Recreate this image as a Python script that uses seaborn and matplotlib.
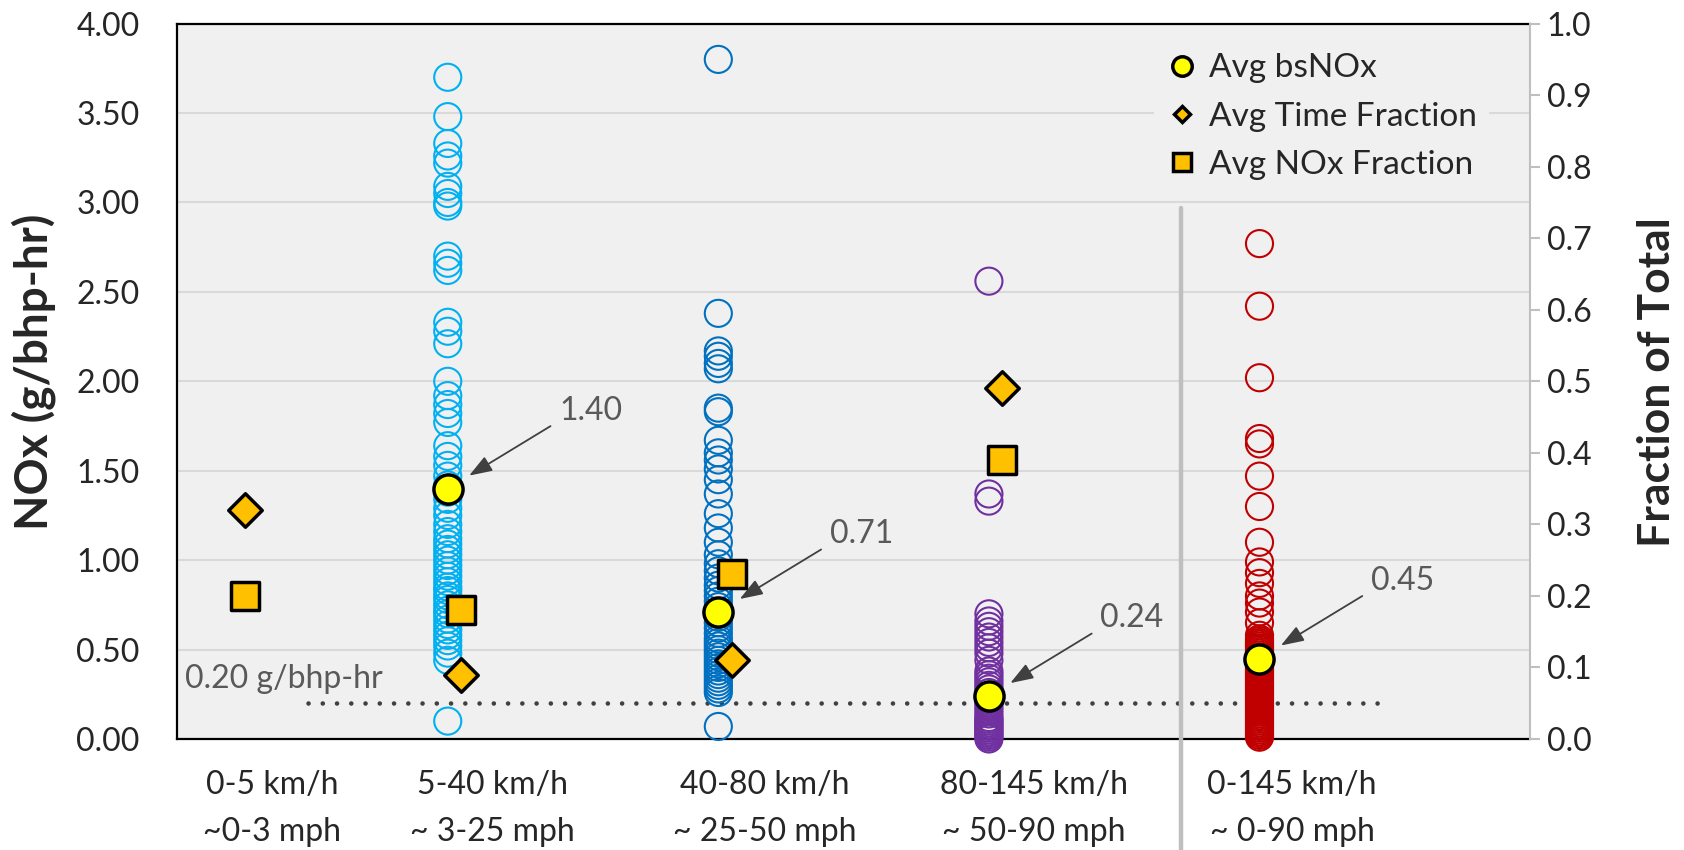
import matplotlib
matplotlib.use("Agg")
import matplotlib.pyplot as plt
from matplotlib.lines import Line2D
from matplotlib.ticker import StrMethodFormatter
import numpy as np
import pandas as pd
import seaborn as sns

# Speed bins (two-line x labels)
bin_kmh = ["0-5 km/h", "5-40 km/h", "40-80 km/h", "80-145 km/h", "0-145 km/h"]
bin_mph = ["~0-3 mph", "~ 3-25 mph", "~ 25-50 mph", "~ 50-90 mph", "~ 0-90 mph"]

# Per-trip bsNOx (g/bhp-hr), one list per speed bin
nox_5_40 = [3.70, 3.48, 3.33, 3.26, 3.22, 3.09, 3.05, 3.00, 2.98, 2.70, 2.66, 2.62,
            2.33, 2.28, 2.21, 2.00, 1.92, 1.87, 1.82, 1.77, 1.64, 1.58, 1.53, 1.47,
            1.42, 1.38, 1.34, 1.29, 1.25, 1.20, 1.16, 1.12, 1.09, 1.06, 1.03, 1.00,
            0.97, 0.94, 0.91, 0.88, 0.85, 0.83, 0.80, 0.78, 0.75, 0.72, 0.70, 0.67,
            0.64, 0.61, 0.58, 0.55, 0.52, 0.48, 0.44, 0.10]
nox_40_80 = [3.80, 2.38, 2.17, 2.14, 2.10, 2.07, 1.85, 1.83, 1.67, 1.60, 1.56, 1.51,
             1.45, 1.37, 1.26, 1.18, 1.10, 1.03, 0.98, 0.94, 0.90, 0.86, 0.83, 0.80,
             0.77, 0.74, 0.71, 0.68, 0.65, 0.62, 0.59, 0.56, 0.54, 0.52, 0.50, 0.48,
             0.46, 0.44, 0.42, 0.40, 0.38, 0.36, 0.34, 0.32, 0.30, 0.28, 0.26, 0.07]
nox_80_145 = [2.56, 1.37, 1.33, 0.70, 0.66, 0.63, 0.60, 0.57, 0.54, 0.51, 0.48, 0.44,
              0.38, 0.36, 0.34, 0.32, 0.30, 0.28, 0.26, 0.24, 0.22, 0.20, 0.18, 0.16,
              0.14, 0.12, 0.11, 0.10, 0.09, 0.08, 0.07, 0.06, 0.05, 0.04, 0.03, 0.02,
              0.01, 0.00]
nox_0_145 = [2.77, 2.42, 2.02, 1.68, 1.65, 1.47, 1.30, 1.10, 0.99, 0.93, 0.87, 0.80,
             0.76, 0.71, 0.65, 0.58, 0.56, 0.55, 0.54, 0.53, 0.52, 0.51, 0.50, 0.49,
             0.48, 0.47, 0.46, 0.45, 0.44, 0.43, 0.42, 0.41, 0.40, 0.39, 0.38, 0.37,
             0.36, 0.35, 0.34, 0.33, 0.32, 0.31, 0.30, 0.29, 0.28, 0.27, 0.26, 0.25,
             0.24, 0.23, 0.22, 0.21, 0.20, 0.19, 0.18, 0.17, 0.16, 0.15, 0.14, 0.13,
             0.12, 0.11, 0.10, 0.09, 0.08, 0.07, 0.06, 0.05, 0.04, 0.03, 0.02, 0.01]

# Averages
avg_bsnox = [1.40, 0.71, 0.24, 0.45]          # bins 5-40 .. 0-145
avg_time_frac = [0.32, 0.09, 0.11, 0.49]      # bins 0-5 .. 80-145
avg_nox_frac = [0.20, 0.18, 0.23, 0.39]
nox_limit = 0.20

# Layout
bin_x = [0.5, 2, 4, 6, 8]
frac_x = [0.5, 2.1, 4.1, 6.1]
label_x = [0.70, 2.33, 4.34, 6.33, 8.24]
trip_colors = ["#00b0f0", "#0070c0", "#7030a0", "#c00000"]

sns.set_style("white")
plt.rcParams["font.family"] = ["Lato", "DejaVu Sans"]

fig = plt.figure(figsize=(16.84, 8.5), dpi=100)
ax = fig.add_axes([0.1052, 0.1306, 0.8034, 0.8416])
ax.set_facecolor("#f0f0f0")
ax.set_xlim(0, 10)
ax.set_ylim(0, 4)

# Trip scatter, open circles
trips = [nox_5_40, nox_40_80, nox_80_145, nox_0_145]
df = pd.DataFrame({
    "x": np.concatenate([[bin_x[i + 1]] * len(v) for i, v in enumerate(trips)]),
    "nox": np.concatenate(trips),
    "bin": np.concatenate([[bin_kmh[i + 1]] * len(v) for i, v in enumerate(trips)]),
})
sns.scatterplot(data=df, x="x", y="nox", hue="bin", palette=trip_colors, s=380,
                linewidth=1.5, legend=False, ax=ax, zorder=3)
pts = ax.collections[-1]
pts.set_edgecolors(pts.get_facecolors())
pts.set_facecolors("none")
pts.set_clip_on(False)

# Limit line
ax.plot([0.97, 8.95], [nox_limit, nox_limit], color="#404040", lw=3.3,
        ls=(0, (0.01, 3.1)), dash_capstyle="round", zorder=2)
ax.text(0.06, 0.337, f"{nox_limit:.2f} g/bhp-hr", color="#595959", fontsize=23, va="center")

# Separator between bins and overall
ax.plot([7.42, 7.42], [2.97, -0.65], color="#bfbfbf", lw=3.2, clip_on=False, zorder=3)

# Average bsNOx
sns.scatterplot(x=bin_x[1:], y=avg_bsnox, s=440, color="#ffff00", edgecolor="black",
                linewidth=2.5, ax=ax, zorder=5)
ax.collections[-1].set_clip_on(False)
for x, v in zip(bin_x[1:], avg_bsnox):
    ax.annotate("", xy=(x, v), xytext=(74, 45), textcoords="offset points",
                arrowprops=dict(arrowstyle="-|>,head_length=0.7,head_width=0.25",
                                color="#404040", lw=1.3, shrinkA=0, shrinkB=18,
                                mutation_scale=20))
    ax.annotate(f"{v:.2f}", xy=(x, v), xytext=(103, 56), textcoords="offset points",
                ha="center", va="center", fontsize=23, color="#595959")

# Axis styling (left)
ax.set_yticks(np.arange(0, 4.01, 0.5))
ax.yaxis.set_major_formatter(StrMethodFormatter("{x:.2f}"))
ax.yaxis.grid(True, color="#d9d9d9", lw=1.5)
ax.set_axisbelow(True)
ax.set_xticks([])
ax.tick_params(axis="y", length=0, pad=27, labelsize=23)
ax.set_xlabel("")
ax.set_ylabel("")
for side in ["left", "bottom", "top"]:
    ax.spines[side].set_color("black")
    ax.spines[side].set_linewidth(1.6)
ax.spines["right"].set_visible(False)

for i, x in enumerate(label_x):
    ax.text(x, -0.26, bin_kmh[i], ha="center", va="center", fontsize=23)
    ax.text(x, -0.52, bin_mph[i], ha="center", va="center", fontsize=23)

# Secondary axis: fractions
ax2 = ax.twinx()
ax2.set_ylim(0, 1)
sns.scatterplot(x=frac_x, y=avg_time_frac, marker="D", s=290, color="#ffc000",
                edgecolor="black", linewidth=2.5, ax=ax2, zorder=5)
sns.scatterplot(x=frac_x, y=avg_nox_frac, marker="s", s=420, color="#ffc000",
                edgecolor="black", linewidth=2.5, ax=ax2, zorder=5)
ax2.set_yticks(np.arange(0, 1.01, 0.1))
ax2.yaxis.set_major_formatter(StrMethodFormatter("{x:.1f}"))
ax2.tick_params(axis="y", direction="out", length=7, width=1.5, color="#bfbfbf",
                pad=5, labelsize=23)
ax2.set_ylabel("")
for side in ["left", "bottom", "top"]:
    ax2.spines[side].set_visible(False)
ax2.spines["right"].set_color("#bfbfbf")
ax2.spines["right"].set_linewidth(1.5)

handles = [
    Line2D([], [], ls="none", marker="o", markersize=14, markerfacecolor="#ffff00",
           markeredgecolor="black", markeredgewidth=2.5, label="Avg bsNOx"),
    Line2D([], [], ls="none", marker="D", markersize=8, markerfacecolor="#ffc000",
           markeredgecolor="black", markeredgewidth=2.5, label="Avg Time Fraction"),
    Line2D([], [], ls="none", marker="s", markersize=13.5, markerfacecolor="#ffc000",
           markeredgecolor="black", markeredgewidth=2.5, label="Avg NOx Fraction"),
]
ax2.legend(handles=handles, loc="upper left", bbox_to_anchor=(0.722, 0.975),
           frameon=True, fancybox=False, facecolor="#f0f0f0", edgecolor="none",
           framealpha=1, fontsize=24, handlelength=1.0, handletextpad=0.3,
           labelspacing=0.55, borderpad=0.35, borderaxespad=0)

fig.text(0.0198, 0.562, "NOx (g/bhp-hr)", rotation=90, ha="center", va="center",
         fontsize=33, fontweight="bold")
fig.text(0.984, 0.551, "Fraction of Total", rotation=90, ha="center", va="center",
         fontsize=32, fontweight="bold")

fig.savefig("out.png", dpi=100)
